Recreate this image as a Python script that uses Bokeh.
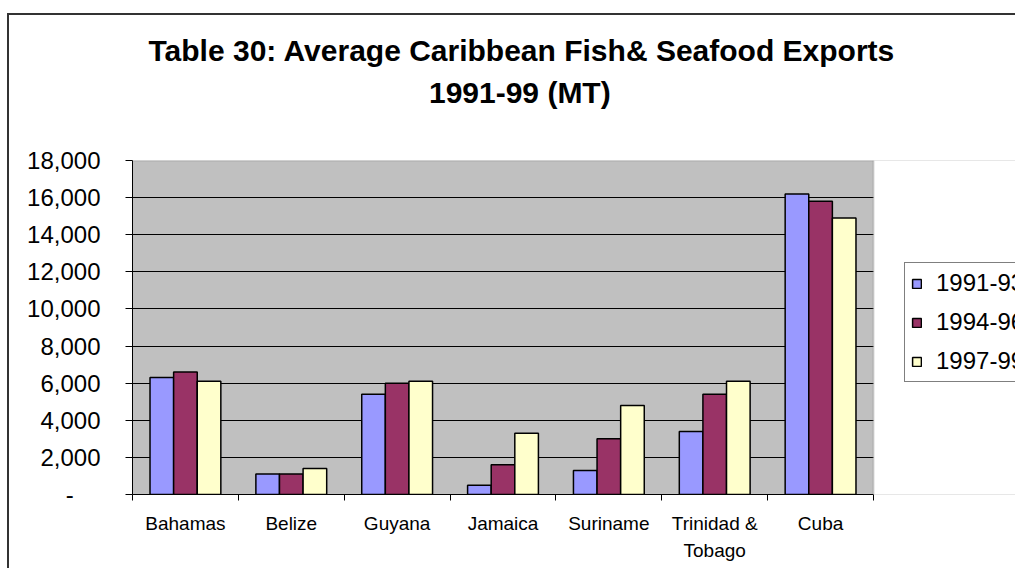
from bokeh.plotting import figure
from bokeh.models import (ColumnDataSource, Range1d, FixedTicker, Legend, LegendItem, Title,
                          BoxAnnotation, LinearAxis)
from bokeh.transform import dodge
from bokeh.embed import file_html
from bokeh.resources import INLINE

# Average exports per period (metric tonnes)
categories = ["Bahamas", "Belize", "Guyana", "Jamaica", "Suriname", "Trinidad &\nTobago", "Cuba"]
periods = ["1991-93", "1994-96", "1997-99"]
exports_1991_93 = [6300, 1100, 5400, 500, 1300, 3400, 16200]
exports_1994_96 = [6600, 1100, 6000, 1600, 3000, 5400, 15800]
exports_1997_99 = [6100, 1400, 6100, 3300, 4800, 6100, 14900]
y_ticks = [0, 2000, 4000, 6000, 8000, 10000, 12000, 14000, 16000, 18000]
y_tick_labels = ["-\u00a0\u00a0\u00a0\u00a0", "2,000", "4,000", "6,000", "8,000", "10,000",
                 "12,000", "14,000", "16,000", "18,000"]
title_lines = ["Table 30: Average Caribbean Fish& Seafood Exports", "1991-99 (MT)"]

colors = ["#9999FF", "#993366", "#FFFFCC"]
FONT = "Liberation Sans"

n = len(categories)
y_max = y_ticks[-1]
# the frame runs to the right edge of the page so the legend beside the plot area
# is not clipped; the plot area itself covers 741 of the frame's 883 pixels
x_end = n * 883 / 741

centers = [i + 0.5 for i in range(n)]
source = ColumnDataSource(dict(x=centers, a=exports_1991_93, b=exports_1994_96, c=exports_1997_99))

p = figure(width=1015, height=568, output_backend="svg", toolbar_location=None,
           x_range=Range1d(0, x_end), y_range=Range1d(0, y_max),
           min_border_left=132, min_border_right=0, min_border_top=160, min_border_bottom=74)
p.title = None
p.background_fill_color = "#C0C0C0"
p.border_fill_color = None
p.outline_line_color = None
# chart-area border: top and left edges of a box that runs past the page
p.styles = {
    "background-color": "white",
    "background-image": "linear-gradient(#333333, #333333), linear-gradient(#333333, #333333)",
    "background-position": "7px 13px, 7px 13px",
    "background-size": "2px 600px, 1100px 2px",
    "background-repeat": "no-repeat",
}

bar_w = 0.223
renderers = []
for key, off, col in zip(["a", "b", "c"], [-bar_w, 0, bar_w], colors):
    r = p.vbar(x=dodge("x", off, range=p.x_range), top=key, width=bar_w, bottom=0,
               source=source, fill_color=col, line_color="black", line_width=1.5)
    renderers.append(r)

# y axis
yax = p.yaxis[0]
yax.ticker = FixedTicker(ticks=y_ticks)
yax.major_label_overrides = {t: lab for t, lab in zip(y_ticks, y_tick_labels)}
yax.major_label_text_font = FONT
yax.major_label_text_font_size = "24px"
yax.major_label_text_color = "black"
yax.major_label_standoff = 25
yax.major_tick_out = 7
yax.major_tick_in = 0
yax.minor_tick_line_color = None
yax.axis_line_color = "black"
yax.major_tick_line_color = "black"

# x axis: labels at category centres, tick marks on category boundaries
xax = p.xaxis[0]
xax.bounds = (0, n)
xax.ticker = FixedTicker(ticks=centers, minor_ticks=list(range(n + 1)))
xax.major_label_overrides = {c: lab for c, lab in zip(centers, categories)}
xax.major_label_text_font = FONT
xax.major_label_text_font_size = "19px"
xax.major_label_text_color = "black"
xax.major_label_text_line_height = 1.3
xax.major_label_standoff = 12
xax.major_tick_line_color = None
xax.minor_tick_line_color = "black"
xax.minor_tick_out = 6
xax.minor_tick_in = 0
xax.axis_line_color = "black"

p.xgrid.visible = False
p.ygrid.ticker = FixedTicker(ticks=y_ticks[1:-1])
p.ygrid.grid_line_color = "black"
p.ygrid.grid_line_width = 1

# blank out the frame to the right of the plot area, then edge the plot area in grey
p.add_layout(BoxAnnotation(left=n, fill_color="white", fill_alpha=1, line_color=None,
                           level="annotation"))
p.add_layout(BoxAnnotation(left=0, right=n, top=y_max, bottom=y_max, fill_color=None,
                           line_color="#808080", line_width=2, level="annotation"))
p.add_layout(BoxAnnotation(left=n, right=n, top=y_max, bottom=0, fill_color=None,
                           line_color="#808080", line_width=2, level="annotation"))

legend = Legend(items=[LegendItem(label=lab, renderers=[r]) for lab, r in zip(periods, renderers)],
                location=(772, 112), level="overlay")
legend.border_line_color = "black"
legend.border_line_width = 1
legend.background_fill_color = "white"
legend.background_fill_alpha = 1
legend.label_text_font = FONT
legend.label_text_font_size = "24px"
legend.label_text_color = "black"
legend.glyph_width = 11
legend.glyph_height = 11
legend.label_height = 28
legend.spacing = 11
legend.padding = 6
legend.margin = 0
legend.label_standoff = 14
p.add_layout(legend, "center")

# second title line: label of a bare axis above the plot; trailing no-break spaces
# pull its centre left, over the middle of the chart area
sub_axis = LinearAxis(ticker=FixedTicker(ticks=[]),
                      axis_line_color=None, major_tick_out=0, major_tick_in=0,
                      major_tick_line_color=None, minor_tick_line_color=None,
                      major_label_standoff=0, axis_label=title_lines[1] + "\u00a0" * 13,
                      axis_label_standoff=52, axis_label_text_font=FONT,
                      axis_label_text_font_style="bold", axis_label_text_font_size="30px",
                      axis_label_text_color="black")
p.add_layout(sub_axis, "above")
p.add_layout(Title(text=title_lines[0], align="left", offset=16, standoff=11,
                   text_font=FONT, text_font_style="bold", text_font_size="30px",
                   text_color="black"), "above")

open("out.html", "w").write(file_html(p, INLINE))
